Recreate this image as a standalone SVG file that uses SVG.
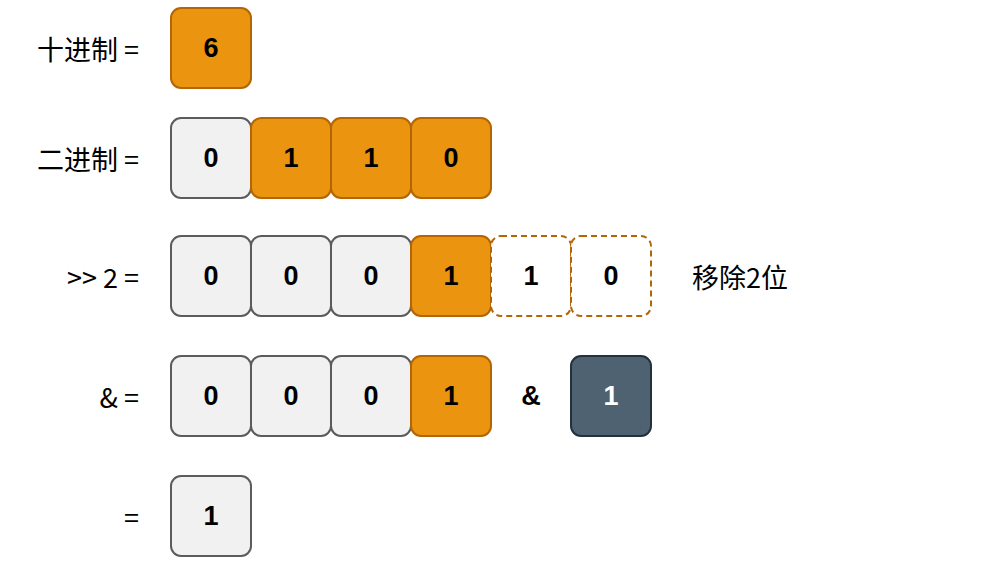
<svg xmlns="http://www.w3.org/2000/svg" width="990" height="578" viewBox="0 0 990 578">
<style>
.b{stroke-width:2}
.o{fill:#EA940F;stroke:#B46504}
.g{fill:#F1F1F1;stroke:#5C5C5C}
.d{fill:#4F6272;stroke:#23303D}
.x{fill:#FFFFFF;stroke:#B46504;stroke-dasharray:6 4}
.t{font-family:"Comic Sans MS","Liberation Sans",sans-serif;font-weight:bold;font-size:27px;text-anchor:middle;dominant-baseline:central;fill:#000}
.w{fill:#FFFFFF}
.l{font-family:"Noto Sans CJK SC","Liberation Sans",sans-serif;font-size:27px;text-anchor:end;dominant-baseline:central;fill:#000}
.r{font-family:"Noto Sans CJK SC","Liberation Sans",sans-serif;font-size:27px;dominant-baseline:central;fill:#000}
</style>
<g id="labels">
<text class="l" x="139" y="48">十进制 =</text>
<text class="l" x="139" y="158">二进制 =</text>
<text class="l" x="139" y="276">&gt;&gt; 2 =</text>
<text class="l" x="139" y="396">&amp; =</text>
<text class="l" x="139" y="516">=</text>
<text class="r" x="692" y="276">移除2位</text>
</g>
<g id="row1">
<g id="n1"><rect class="b o" x="171" y="8" width="80" height="80" rx="10"/><text class="t" x="211" y="48">6</text></g>
</g>
<g id="row2">
<g id="n2a"><rect class="b g" x="171" y="118" width="80" height="80" rx="10"/><text class="t" x="211" y="158">0</text></g>
<g id="n2b"><rect class="b o" x="251" y="118" width="80" height="80" rx="10"/><text class="t" x="291" y="158">1</text></g>
<g id="n2c"><rect class="b o" x="331" y="118" width="80" height="80" rx="10"/><text class="t" x="371" y="158">1</text></g>
<g id="n2d"><rect class="b o" x="411" y="118" width="80" height="80" rx="10"/><text class="t" x="451" y="158">0</text></g>
</g>
<g id="row3">
<g id="n3a"><rect class="b g" x="171" y="236" width="80" height="80" rx="10"/><text class="t" x="211" y="276">0</text></g>
<g id="n3b"><rect class="b g" x="251" y="236" width="80" height="80" rx="10"/><text class="t" x="291" y="276">0</text></g>
<g id="n3c"><rect class="b g" x="331" y="236" width="80" height="80" rx="10"/><text class="t" x="371" y="276">0</text></g>
<g id="n3d"><rect class="b o" x="411" y="236" width="80" height="80" rx="10"/><text class="t" x="451" y="276">1</text></g>
<g id="n3e"><rect class="b x" x="491" y="236" width="80" height="80" rx="10"/><text class="t" x="531" y="276">1</text></g>
<g id="n3f"><rect class="b x" x="571" y="236" width="80" height="80" rx="10"/><text class="t" x="611" y="276">0</text></g>
</g>
<g id="row4">
<g id="n4a"><rect class="b g" x="171" y="356" width="80" height="80" rx="10"/><text class="t" x="211" y="396">0</text></g>
<g id="n4b"><rect class="b g" x="251" y="356" width="80" height="80" rx="10"/><text class="t" x="291" y="396">0</text></g>
<g id="n4c"><rect class="b g" x="331" y="356" width="80" height="80" rx="10"/><text class="t" x="371" y="396">0</text></g>
<g id="n4d"><rect class="b o" x="411" y="356" width="80" height="80" rx="10"/><text class="t" x="451" y="396">1</text></g>
<text class="t" x="531" y="396">&amp;</text>
<g id="n4f"><rect class="b d" x="571" y="356" width="80" height="80" rx="10"/><text class="t w" x="611" y="396">1</text></g>
</g>
<g id="row5">
<g id="n5"><rect class="b g" x="171" y="476" width="80" height="80" rx="10"/><text class="t" x="211" y="516">1</text></g>
</g>
<g id="connectors"></g>
</svg>
